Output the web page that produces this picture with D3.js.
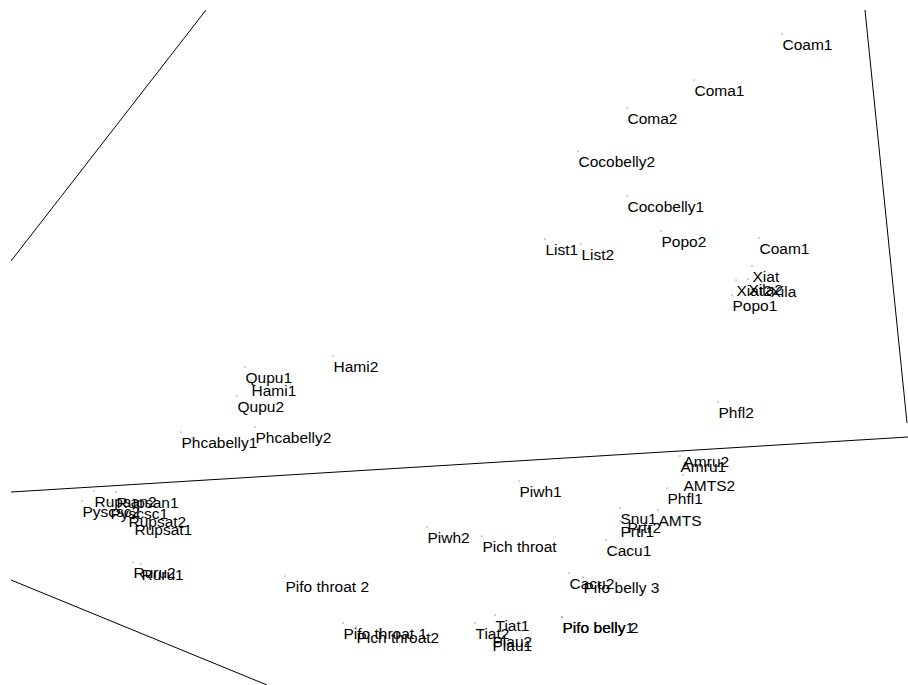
<!DOCTYPE html>
<html><head><meta charset="utf-8">
<script src="https://cdn.jsdelivr.net/npm/d3@7/dist/d3.min.js"></script>
<style>html,body{margin:0;padding:0;background:#fff;}svg{display:block;}</style>
</head><body>
<script>
const labels = ["Coam1","Coma1","Coma2","Cocobelly2","Cocobelly1","List1","List2","Popo2","Coam1","Xiat","Xiat2","Xila2","Xila","Popo1",
"Hami2","Qupu1","Hami1","Qupu2","Phcabelly1","Phcabelly2","Phfl2","Amru2","Amru1","AMTS2","Phfl1","AMTS","Snu1","Prtr2","Prtr1",
"Cacu1","Cacu2","Pifo belly 3","Pifo belly1","Pifo belly 2","Tiat1","Tiat2","Plau2","Plau1","Pifo throat 1","Pich throat2",
"Pifo throat 2","Pich throat","Piwh2","Piwh1","Pyscsc2","Pyscsc1","Rupsan2","Rupsan1","Rupsat2","Rupsat1","Ruru2","Ruru1"];
const ld1 = [77.1,68.3,61.6,56.7,61.6,53.4,57.0,65.0,74.8,74.1,72.5,73.7,75.9,72.1,
32.2,23.4,24.0,22.6,17.0,24.4,70.7,67.2,66.9,67.2,65.6,64.7,60.9,61.6,60.9,
59.5,55.8,57.2,55.1,55.1,48.4,46.4,48.1,48.1,33.2,34.5,
27.4,47.1,41.6,50.8,7.1,9.9,8.3,10.5,11.7,12.3,12.2,13.0];
const ld2 = [65.1,60.5,57.7,53.4,48.9,44.6,44.1,45.4,44.7,41.9,40.5,40.6,40.4,39.0,
32.9,31.8,30.5,28.9,25.3,25.8,28.3,23.4,22.9,21.0,19.7,17.5,17.7,16.8,16.4,
14.5,11.2,10.8,6.8,6.8,7.0,6.2,5.4,5.0,6.2,5.8,
10.9,14.9,15.8,20.4,18.4,18.2,19.4,19.3,17.4,16.6,12.3,12.1];
// boundary segments: [x1, y1, x2, y2]
const boundaryX1 = [19.5, 0, 85.4, 0];
const boundaryY1 = [67.5, 19.3, 67.5, 10.5];
const boundaryX2 = [0, 89.7, 89.6, 25.6];
const boundaryY2 = [42.4, 24.8, 26.2, 0];

const W = 908, H = 685;
const x = d3.scaleLinear().domain([0, 90]).range([11, 911]);
const y = d3.scaleLinear().domain([0, 67.5]).range([685, 10]);

const svg = d3.select("body").append("svg").attr("width", W).attr("height", H);
svg.append("defs").append("clipPath").attr("id","clip")
  .append("rect").attr("x", 11).attr("y", 10).attr("width", 900).attr("height", 675);

const g = svg.append("g").attr("clip-path","url(#clip)");
g.selectAll("line.b").data(boundaryX1.map((d,i)=>i)).enter().append("line")
  .attr("class","b")
  .attr("x1", i=>x(boundaryX1[i])).attr("y1", i=>y(boundaryY1[i]))
  .attr("x2", i=>x(boundaryX2[i])).attr("y2", i=>y(boundaryY2[i]))
  .attr("stroke","#000").attr("stroke-width",1);

const pts = labels.map((l,i)=>({l, a:ld1[i], b:ld2[i]}));
svg.selectAll("circle").data(pts).enter().append("circle")
  .attr("cx", d=>x(d.a)).attr("cy", d=>y(d.b)).attr("r", 0.6).attr("fill","#333");
svg.selectAll("text").data(pts).enter().append("text")
  .attr("x", d=>x(d.a)+0.5).attr("y", d=>y(d.b)+16)
  .attr("font-family","'Liberation Sans', Arial, sans-serif")
  .attr("font-size", 15.5).attr("fill","#000")
  .text(d=>d.l);
</script>
</body></html>
